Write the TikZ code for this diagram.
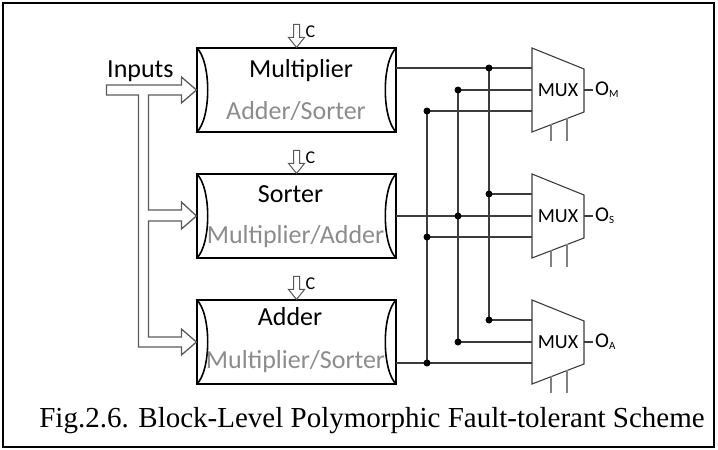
\documentclass[tikz,border=0pt]{standalone}
\usepackage{fontspec}
\setmainfont{Carlito}
\newfontfamily\capfont{Liberation Serif}
\usepackage{xcolor}
\usepackage{tikz}
\definecolor{altgray}{HTML}{8C8C8C}
\definecolor{wiregray}{HTML}{3C3C3C}
\definecolor{pipegray}{HTML}{5A5A5A}
\newcommand{\osub}[1]{O{\fontsize{11}{12}\selectfont\raisebox{-2pt}{#1}}}
\tikzset{
  blockbox/.style={draw=black,line width=1.1pt,minimum width=199pt,minimum height=84pt,inner sep=0pt},
  blockend/.style={draw=black,line width=1.6pt},
  mainlabel/.style={font=\fontsize{26}{30}\selectfont,anchor=base,inner sep=0pt},
  altlabel/.style={mainlabel,text=altgray},
  muxtext/.style={font=\fontsize{20}{24}\selectfont,inner sep=0pt},
  muxshape/.style={draw=wiregray,line width=1.1pt},
  selline/.style={draw=gray,line width=1.4pt},
  wire/.style={draw=wiregray,line width=1.2pt},
  pipe/.style={draw=pipegray,line width=1.3pt,line join=miter},
  ctrlarrow/.style={draw=pipegray,line width=1pt,fill=white},
  ctrllabel/.style={font=\fontsize{18}{20}\selectfont,inner sep=0pt},
  outlabel/.style={font=\fontsize{21}{24}\selectfont,anchor=west,inner sep=2pt},
  junc/.style={circle,fill=black,inner sep=0pt,minimum size=7pt},
  captext/.style={font=\capfont\fontsize{29}{32}\selectfont,inner sep=0pt},
}

\begin{document}
\begin{tikzpicture}[x=1pt,y=-1pt]
  \useasboundingbox (0,0) rectangle (718,450);
  \draw[line width=1.5pt] (3,3) rectangle (714,447);

  % function blocks
  \node[blockbox] (nMul) at (296.5,90) {};
  \node[blockbox] (nSrt) at (296.5,216) {};
  \node[blockbox] (nAdd) at (296.5,342) {};
  \foreach \b in {nMul,nSrt,nAdd} {
    \draw[blockend] (\b.north west) .. controls +(15,14) and +(15,-14) .. (\b.south west);
    \draw[blockend] (\b.north east) .. controls +(-15,14) and +(-15,-14) .. (\b.south east);
  }
  \node[mainlabel] (tMul) at (301,77) {Multiplier};
  \node[altlabel] (aMul) at (296,119) {Adder/Sorter};
  \node[mainlabel] (tSrt) at (290.5,202) {Sorter};
  \node[altlabel] (aSrt) at (295.5,243) {Multiplier/Adder};
  \node[mainlabel] (tAdd) at (290,325) {Adder};
  \node[altlabel] (aAdd) at (295.5,368) {Multiplier/Sorter};

  % configuration inputs
  \foreach \b/\c in {nMul/cM,nSrt/cS,nAdd/cA} {
    \draw[ctrlarrow] (\b.north) -- ++(-8,-10) -- ++(5,0) -- ++(0,-13) -- ++(6,0) -- ++(0,13) -- ++(5,0) -- cycle;
    \node[ctrllabel] (\c) at ([shift={(14,-16)}]\b.north) {C};
  }

  % input bus
  \node[mainlabel,anchor=base west] (tIn) at (107,77) {Inputs};
  \draw[pipe] (nMul.west) -- ++(-15,13) -- ++(0,-8) -- ++(-33,0) -- ++(0,115) -- ++(33,0) -- ++(0,-8)
    -- (nSrt.west) -- ++(-15,13) -- ++(0,-8) -- ++(-33,0) -- ++(0,116) -- ++(33,0) -- ++(0,-8)
    -- (nAdd.west) -- ++(-15,13) -- ++(0,-8) -- ++(-43,0) -- ++(0,-252) -- ++(-32,0) -- ++(0,-10)
    -- ++(75,0) -- ++(0,-8) -- cycle;

  % voters
  \node[muxtext] (nMuxM) at (558,90) {MUX};
  \node[muxtext] (nMuxS) at (558,216) {MUX};
  \node[muxtext] (nMuxA) at (558,342) {MUX};
  \foreach \m in {nMuxM,nMuxS,nMuxA} {
    \draw[muxshape] (\m.center) ++(-26,-42) -- ++(52,21) -- ++(0,43) -- ++(-52,20) -- cycle;
    \draw[selline] (\m.center) ++(-7,34) -- ++(0,17);
    \draw[selline] (\m.center) ++(9,28) -- ++(0,23);
  }
  \node[outlabel] (oM) at (593,90) {\osub{M}};
  \node[outlabel] (oS) at (593,216) {\osub{S}};
  \node[outlabel] (oA) at (593,342) {\osub{A}};
  \draw[wire] (nMuxM.center) ++(26,0) -- (oM.west);
  \draw[wire] (nMuxS.center) ++(26,0) -- (oS.west);
  \draw[wire] (nMuxA.center) ++(26,0) -- (oA.west);

  % cross wiring
  \coordinate (qM) at (396,68);
  \coordinate (qS) at (396,216);
  \coordinate (qA) at (396,363);
  \coordinate (iM1) at (532,68);
  \coordinate (iM2) at (532,90);
  \coordinate (iM3) at (532,111);
  \coordinate (iS1) at (532,194);
  \coordinate (iS2) at (532,216);
  \coordinate (iS3) at (532,237);
  \coordinate (iA1) at (532,320);
  \coordinate (iA2) at (532,342);
  \coordinate (iA3) at (532,363);
  \coordinate (jM1) at (489,68);
  \coordinate (jM2) at (489,194);
  \coordinate (jM3) at (489,320);
  \coordinate (jS1) at (458,90);
  \coordinate (jS2) at (458,216);
  \coordinate (jS3) at (458,342);
  \coordinate (jA1) at (427,111);
  \coordinate (jA2) at (427,237);
  \coordinate (jA3) at (427,363);
  \draw[wire] (qM) -- (iM1);
  \draw[wire] (qS) -- (iS2);
  \draw[wire] (qA) -- (iA3);
  \draw[wire] (jM1) -- (jM3);
  \draw[wire] (jM2) -- (iS1);
  \draw[wire] (jM3) -- (iA1);
  \draw[wire] (jS1) -- (jS3);
  \draw[wire] (jS1) -- (iM2);
  \draw[wire] (jS3) -- (iA2);
  \draw[wire] (jA1) -- (jA3);
  \draw[wire] (jA1) -- (iM3);
  \draw[wire] (jA2) -- (iS3);
  \foreach \j in {jM1,jM2,jM3,jS1,jS2,jS3,jA1,jA2,jA3}
    \node[junc] at (\j) {};

  \node[captext] (cap) at (372,421) {Fig.2.6. Block-Level Polymorphic Fault-tolerant Scheme};
\end{tikzpicture}
\end{document}
